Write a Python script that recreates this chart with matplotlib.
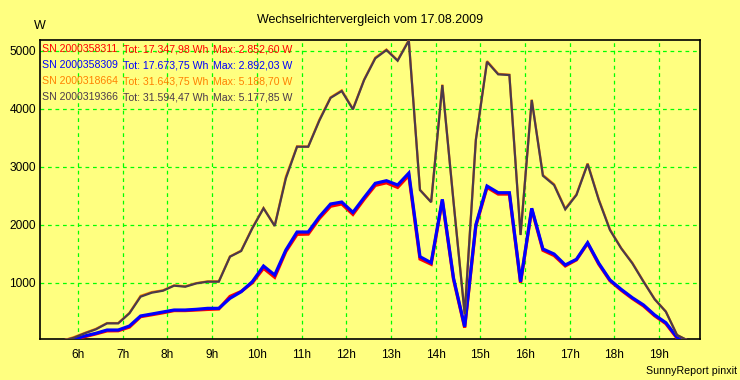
import matplotlib
matplotlib.use("Agg")
import matplotlib.pyplot as plt

plt.rcParams['font.family'] = ['Liberation Sans', 'DejaVu Sans']

# time of each sample (hours)
hours = [5.15, 5.40, 5.65, 5.90, 6.15, 6.40, 6.65, 6.90, 7.15, 7.40,
         7.65, 7.90, 8.15, 8.40, 8.65, 8.90, 9.15, 9.40, 9.65, 9.90,
         10.15, 10.40, 10.65, 10.90, 11.15, 11.40, 11.65, 11.90, 12.15, 12.40,
         12.65, 12.90, 13.15, 13.40, 13.65, 13.90, 14.15, 14.40, 14.65, 14.90,
         15.15, 15.40, 15.65, 15.90, 16.15, 16.40, 16.65, 16.90, 17.15, 17.40,
         17.65, 17.90, 18.15, 18.40, 18.65, 18.90, 19.15, 19.40, 19.65, 19.90]

sn311 = [0, 0, 0, 12, 70, 118, 170, 172, 235, 415,
         448, 482, 520, 520, 530, 540, 548, 765, 850, 1000,
         1250, 1095, 1540, 1835, 1840, 2110, 2320, 2360, 2180, 2440,
         2680, 2725, 2645, 2852.6, 1410, 1320, 2420, 1060, 225, 1980,
         2645, 2530, 2530, 1000, 2270, 1560, 1470, 1290, 1395, 1680,
         1320, 1035, 872, 728, 600, 430, 295, 45, 0, 0]

sn309 = [0, 0, 0, 20, 82, 128, 185, 185, 254, 427,
         461, 496, 530, 530, 542, 559, 559, 732, 846, 1019,
         1289, 1134, 1565, 1876, 1876, 2140, 2359, 2393, 2215, 2470,
         2716, 2761, 2687, 2892.03, 1450, 1346, 2440, 1080, 242, 2000,
         2669, 2554, 2554, 1018, 2285, 1583, 1496, 1307, 1405, 1691,
         1336, 1048, 887, 742, 617, 444, 311, 59, 0, 0]

sn664 = [0, 0, 0, 60, 135, 205, 305, 305, 480, 775,
         840, 870, 955, 940, 995, 1025, 1025, 1455, 1555, 1950,
         2290, 1985, 2830, 3355, 3350, 3815, 4200, 4320, 4000, 4505,
         4885, 5025, 4840, 5188.7, 2605, 2395, 4420, 2405, 465, 3475,
         4825, 4605, 4590, 1830, 4160, 2860, 2700, 2280, 2525, 3060,
         2440, 1920, 1600, 1345, 1025, 720, 505, 100, 0, 0]

sn366 = [0, 0, 0, 50, 128, 197, 300, 300, 473, 760,
         829, 863, 950, 932, 990, 1019, 1019, 1450, 1548, 1940,
         2285, 1980, 2802, 3347, 3347, 3800, 4190, 4308, 3992, 4498,
         4872, 5015, 4831, 5177.85, 2600, 2390, 4411, 2400, 460, 3463,
         4813, 4596, 4584, 1824, 4153, 2847, 2686, 2267, 2514, 3049,
         2428, 1910, 1595, 1336, 1019, 715, 501, 99, 0, 0]

legend_sn = ["SN 2000358311", "SN 2000358309", "SN 2000318664", "SN 2000319366"]
legend_tot = ["Tot: 17.347,98 Wh", "Tot: 17.673,75 Wh", "Tot: 31.643,75 Wh", "Tot: 31.594,47 Wh"]
legend_max = ["Max: 2.852,60 W", "Max: 2.892,03 W", "Max: 5.188,70 W", "Max: 5.177,85 W"]
colors = ['#FF0000', '#0000FF', '#FF8000', '#4B3A4B']

xticks = list(range(6, 20))
xtick_labels = [f"{h}h" for h in xticks]
yticks = [1000, 2000, 3000, 4000, 5000]

bg = '#FFFF80'
W, H = 740, 380
fig = plt.figure(figsize=(W / 100, H / 100), dpi=100, facecolor=bg)
ax = fig.add_axes([40 / W, 1 - 339 / H, 659.6 / W, 299 / H], facecolor=bg)

grid_kw = dict(color='#00FF00', lw=0.9, ls=(0, (3, 3)), zorder=1)
for xt in xticks:
    ax.axvline(xt, **grid_kw)
for yt in yticks:
    ax.axhline(yt, **grid_kw)

series = [sn311, sn309, sn664, sn366]
widths = [2.3, 2.3, 1.6, 1.6]
for vals, c, lw in zip(series, colors, widths):
    ax.plot(hours, vals, color=c, lw=lw, zorder=3, solid_joinstyle='miter')

ax.set_xlim(5.15, 19.905)
ax.set_ylim(30, 5188.7)
ax.set_xticks(xticks)
ax.set_xticklabels(xtick_labels)
ax.set_yticks(yticks)
ax.set_yticklabels([str(v) for v in yticks])
ax.tick_params(length=0, labelsize=8.6, colors='black')
ax.tick_params(axis='x', pad=7)
ax.tick_params(axis='y', pad=3)
for s in ax.spines.values():
    s.set_color('black')
    s.set_linewidth(1.2)

# legend block
for i in range(4):
    y = 1 - (49 + 16 * i) / H
    fig.text(42 / W, y, legend_sn[i], color=colors[i], fontsize=7.6, va='center', ha='left')
    fig.text(123 / W, y, legend_tot[i], color=colors[i], fontsize=7.6, va='center', ha='left')
    fig.text(213 / W, y, legend_max[i], color=colors[i], fontsize=7.6, va='center', ha='left')

fig.text(370 / W, 1 - 20 / H, "Wechselrichtervergleich vom 17.08.2009", fontsize=9,
         ha='center', va='center', color='black')
fig.text(40 / W, 1 - 26 / H, "W", fontsize=9, ha='center', va='center', color='black')
fig.text(737 / W, 1 - 371 / H, "SunnyReport pinxit", fontsize=7.7, ha='right', va='center', color='black')

fig.savefig('out.png', dpi=100, facecolor=bg)
